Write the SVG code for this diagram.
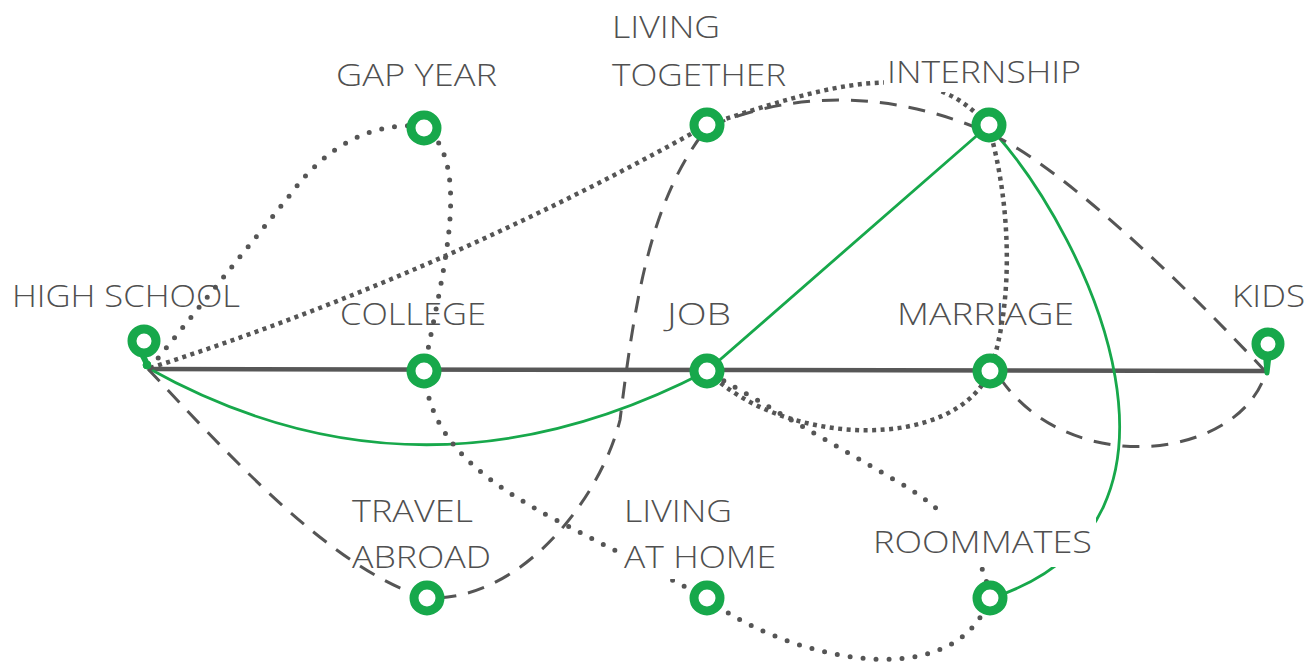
<svg xmlns="http://www.w3.org/2000/svg" width="1308" height="662" viewBox="0 0 1308 662">
<style>
.main{fill:none;stroke:#575757;stroke-width:4.5}
.green{fill:none;stroke:#17a84b;stroke-width:2.8}
.dash{fill:none;stroke:#555;stroke-width:3;stroke-dasharray:17 12}
.sq{fill:none;stroke:#555;stroke-width:4.5;stroke-dasharray:4 4.5}
.rd{fill:none;stroke:#555;stroke-width:5;stroke-dasharray:0 13;stroke-linecap:round}
.ring{fill:#fff;stroke:#17a84b;stroke-width:9}
.pin{fill:#17a84b;stroke:#17a84b}
.lbl{font-family:"Open Sans","Noto Sans","Liberation Sans",sans-serif;font-size:32px;font-weight:350;fill:#505050}
.bg{fill:#fff}
</style>
<rect width="1308" height="662" fill="#fff"/>
<g id="connectors">
  <path class="main" d="M148,369 L1266,371"/>
  <path class="green" d="M148,368 Q420,520 707,371 L989,125"/>
  <path class="green" d="M995,133 C1090,240 1220,520 995,597"/>
  <path class="dash" d="M148,369 C220,445 330,570 427,598 C520,602 600,500 620,420 C635,300 650,200 707,128 C780,95 880,85 989,133 C1060,165 1180,280 1266,372 C1240,460 1070,480 1000,378"/>
  <path class="sq" d="M150,368 Q440,275 707,125 C820,88 930,50 989,128 C1010,200 1015,300 990,371 C955,452 785,448 707,371"/>
  <path class="rd" d="M150,368 L290,195 Q345,120 424,126 C475,165 440,280 424,371 C430,440 480,480 560,522 L707,598 C770,650 950,705 990,598 Q980,530 900,483 L707,371"/>
</g>
<g id="high-school">
  <path class="pin" d="M141,352 L147,364" stroke-width="6"/>
  <circle class="pin" cx="147" cy="365" r="4"/>
  <circle class="ring" cx="144" cy="341" r="12"/>
  <text class="lbl" x="12" y="307" textLength="228" lengthAdjust="spacingAndGlyphs">HIGH SCHOOL</text>
</g>
<g id="gap-year">
  <circle class="ring" cx="424" cy="128" r="13"/>
  <text class="lbl" x="336" y="86" textLength="161" lengthAdjust="spacingAndGlyphs">GAP YEAR</text>
</g>
<g id="living-together">
  <circle class="ring" cx="707" cy="125" r="13"/>
  <text class="lbl" x="612" y="38" textLength="108" lengthAdjust="spacingAndGlyphs">LIVING</text>
  <text class="lbl" x="612" y="86" textLength="174" lengthAdjust="spacingAndGlyphs">TOGETHER</text>
</g>
<g id="internship">
  <rect class="bg" x="884" y="50" width="202" height="42"/>
  <circle class="ring" cx="989" cy="125" r="13"/>
  <text class="lbl" x="887" y="83" textLength="194" lengthAdjust="spacingAndGlyphs">INTERNSHIP</text>
</g>
<g id="college">
  <circle class="ring" cx="424" cy="371" r="13"/>
  <text class="lbl" x="340" y="325" textLength="146" lengthAdjust="spacingAndGlyphs">COLLEGE</text>
</g>
<g id="job">
  <circle class="ring" cx="707" cy="371" r="13"/>
  <text class="lbl" x="667" y="325" textLength="64" lengthAdjust="spacingAndGlyphs">JOB</text>
</g>
<g id="marriage">
  <circle class="ring" cx="990" cy="371" r="13"/>
  <text class="lbl" x="897" y="325" textLength="177" lengthAdjust="spacingAndGlyphs">MARRIAGE</text>
</g>
<g id="kids">
  <path class="pin" d="M1265,350 L1269,356 L1267,373 Z" stroke-width="5" stroke-linejoin="round"/>
  <circle class="ring" cx="1268" cy="344" r="12"/>
  <text class="lbl" x="1232" y="307" textLength="73" lengthAdjust="spacingAndGlyphs">KIDS</text>
</g>
<g id="travel-abroad">
  <circle class="ring" cx="427" cy="598" r="13"/>
  <text class="lbl" x="352" y="522" textLength="121" lengthAdjust="spacingAndGlyphs">TRAVEL</text>
  <text class="lbl" x="352" y="568" textLength="139" lengthAdjust="spacingAndGlyphs">ABROAD</text>
</g>
<g id="living-at-home">
  <rect class="bg" x="620" y="490" width="170" height="89"/>
  <circle class="ring" cx="707" cy="598" r="13"/>
  <text class="lbl" x="624" y="522" textLength="108" lengthAdjust="spacingAndGlyphs">LIVING</text>
  <text class="lbl" x="624" y="568" textLength="152" lengthAdjust="spacingAndGlyphs">AT HOME</text>
</g>
<g id="roommates">
  <rect class="bg" x="868" y="514" width="228" height="53"/>
  <circle class="ring" cx="990" cy="598" r="13"/>
  <text class="lbl" x="873" y="553" textLength="219" lengthAdjust="spacingAndGlyphs">ROOMMATES</text>
</g>
</svg>
